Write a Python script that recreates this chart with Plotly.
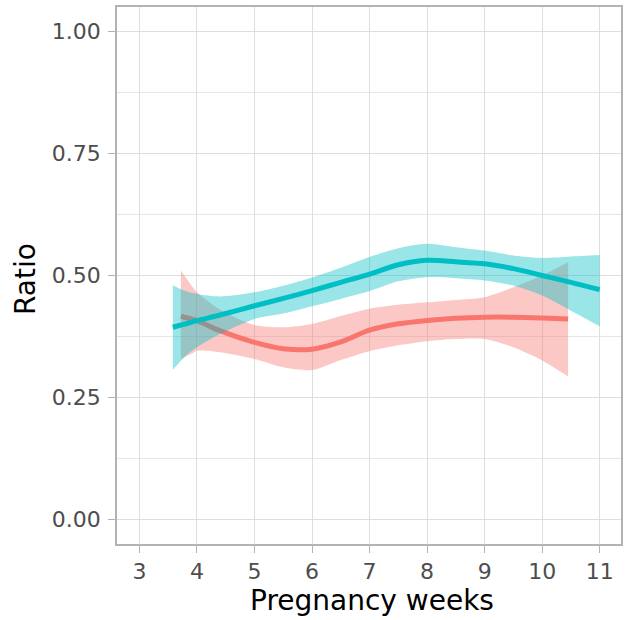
import plotly.graph_objects as go

# ---- data ----
teal_x = [3.58, 3.8, 4.0, 4.4, 5.0, 5.5, 6.0, 6.5, 7.0, 7.5, 8.0, 8.5, 9.0, 9.5, 10.0, 10.5, 11.0]
teal_fit = [0.394, 0.401, 0.4075, 0.419, 0.438, 0.453, 0.469, 0.486, 0.503, 0.522, 0.531, 0.528, 0.524, 0.514, 0.500, 0.486, 0.471]
teal_hi = [0.480, 0.468, 0.462, 0.457, 0.4656, 0.479, 0.496, 0.516, 0.538, 0.556, 0.565, 0.558, 0.551, 0.541, 0.536, 0.539, 0.542]
teal_lo = [0.3065, 0.335, 0.353, 0.380, 0.411, 0.422, 0.437, 0.452, 0.468, 0.488, 0.4966, 0.4945, 0.490, 0.4795, 0.459, 0.428, 0.396]

red_x = [3.72, 3.9, 4.0, 4.4, 5.0, 5.5, 6.0, 6.5, 7.0, 7.5, 8.0, 8.5, 9.0, 9.5, 10.0, 10.45]
red_fit = [0.4165, 0.411, 0.4075, 0.387, 0.363, 0.350, 0.349, 0.364, 0.388, 0.401, 0.408, 0.4126, 0.4146, 0.4146, 0.413, 0.411]
red_hi = [0.510, 0.480, 0.4656, 0.430, 0.3987, 0.394, 0.4007, 0.417, 0.432, 0.440, 0.445, 0.450, 0.4556, 0.476, 0.500, 0.527]
red_lo = [0.329, 0.339, 0.346, 0.343, 0.329, 0.312, 0.3065, 0.327, 0.345, 0.357, 0.3654, 0.370, 0.370, 0.353, 0.326, 0.293]

x_ticks = [3, 4, 5, 6, 7, 8, 9, 10, 11]
y_ticks = [0.0, 0.25, 0.5, 0.75, 1.0]
y_ticktext = ["0.00", "0.25", "0.50", "0.75", "1.00"]
y_minor = [0.125, 0.375, 0.625, 0.875]
x_title = "Pregnancy weeks"
y_title = "Ratio"

RED = "#F8766D"
TEAL = "#00BFC4"
RED_FILL = "rgba(248,118,109,0.4)"
TEAL_FILL = "rgba(0,191,196,0.4)"
FONT = "DejaVu Sans"

fig = go.Figure()

def add_smooth(x, lo, hi, fit, color, fill):
    fig.add_trace(go.Scatter(x=x, y=lo, mode="lines", line=dict(width=0, shape="spline", smoothing=0.8),
                             hoverinfo="skip", showlegend=False))
    fig.add_trace(go.Scatter(x=x, y=hi, mode="lines", line=dict(width=0, shape="spline", smoothing=0.8),
                             fill="tonexty", fillcolor=fill, hoverinfo="skip", showlegend=False))
    fig.add_trace(go.Scatter(x=x, y=fit, mode="lines", line=dict(color=color, width=5, shape="spline", smoothing=0.8),
                             showlegend=False))

add_smooth(red_x, red_lo, red_hi, red_fit, RED, RED_FILL)
add_smooth(teal_x, teal_lo, teal_hi, teal_fit, TEAL, TEAL_FILL)

axis_common = dict(
    showline=True, linecolor="#B3B3B3", linewidth=1.5, mirror=True,
    ticks="outside", ticklen=7, tickcolor="#B3B3B3", tickwidth=1,
    gridcolor="#DEDEDE", gridwidth=1, zeroline=False, automargin=False,
    tickfont=dict(family=FONT, size=22, color="#4D4D4D"),
)

fig.update_layout(
    width=625, height=620,
    margin=dict(l=117, r=4, t=7, b=76),
    paper_bgcolor="white", plot_bgcolor="white",
    font=dict(family=FONT),
    xaxis=dict(range=[2.61, 11.37], tickmode="array", tickvals=x_ticks, **axis_common),
    yaxis=dict(range=[-0.05, 1.05], tickmode="array", tickvals=y_ticks, ticktext=y_ticktext,
               ticklabelstandoff=3,
               minor=dict(tickmode="array", tickvals=y_minor, showgrid=True, gridcolor="#E6E6E6", gridwidth=0.6, ticks=""),
               **axis_common),
    annotations=[
        dict(text=x_title, xref="paper", yref="paper", x=0.506, y=-0.106, xanchor="center", yanchor="middle",
             showarrow=False, font=dict(family=FONT, size=28, color="black")),
        dict(text=y_title, xref="paper", yref="paper", x=-0.1815, y=0.4925, xanchor="center", yanchor="middle",
             textangle=-90, showarrow=False, font=dict(family=FONT, size=28, color="black")),
    ],
)

fig.write_html("out.html", config={"displayModeBar": False},
               post_script="document.body.style.margin='0';")
